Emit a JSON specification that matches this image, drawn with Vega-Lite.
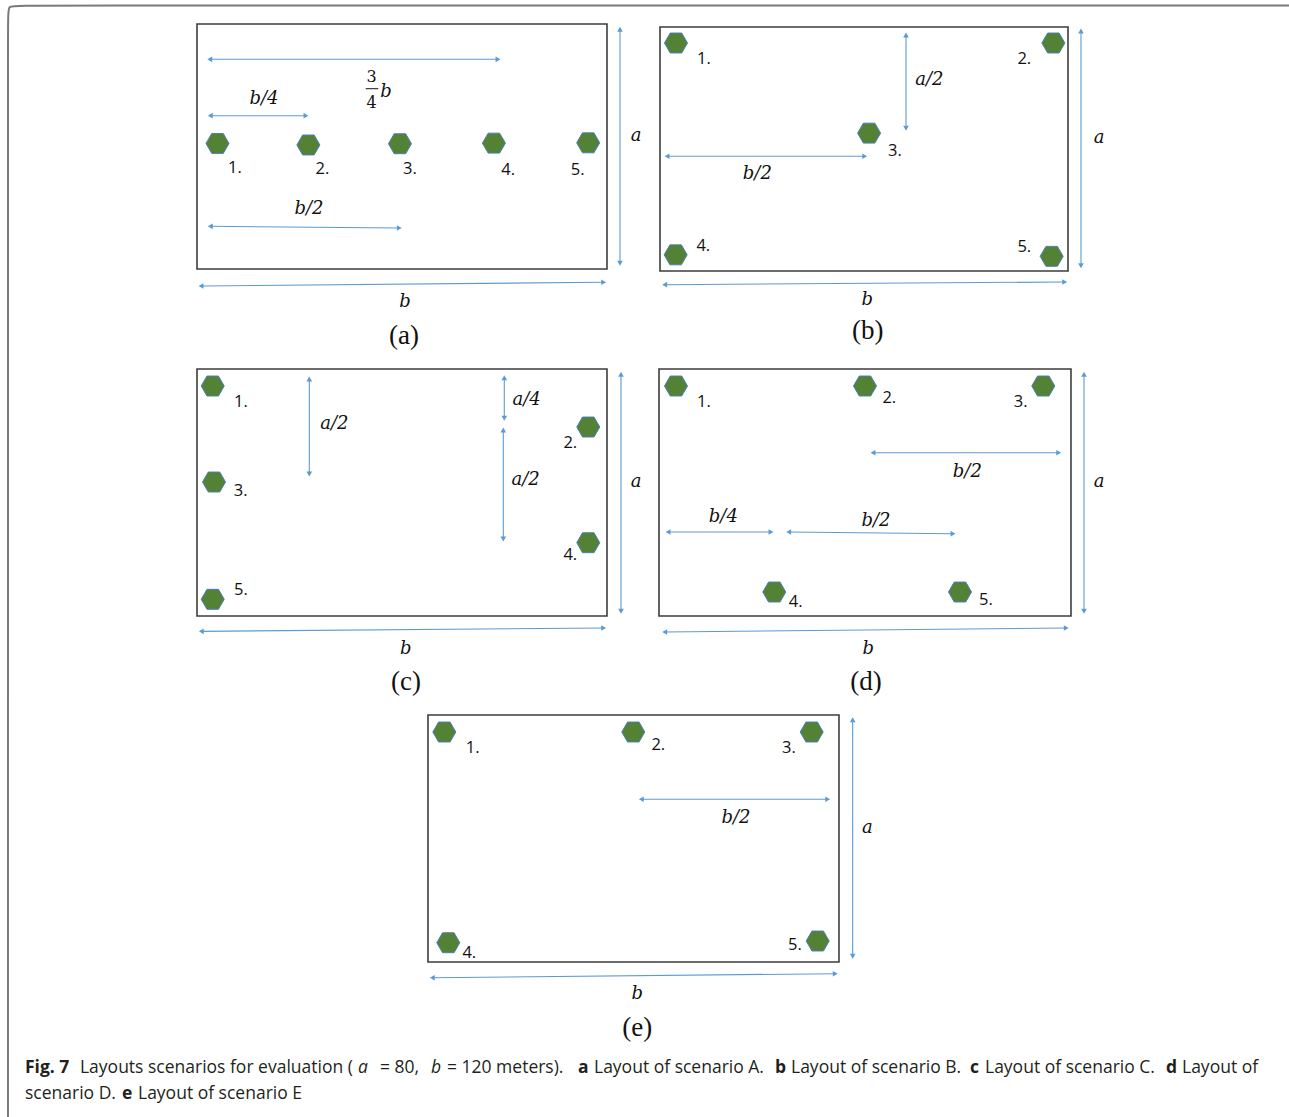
{
"$schema": "https://vega.github.io/schema/vega-lite/v6.json",
"padding": 0,
"background": "white",
"spacing": 0,
"config": {"view": {"stroke": null}, "concat": {"spacing": 0}},
"datasets": {"items": [
{"panel":"A","kind":"border","order":1,"x":-55.32,"y":-26.78},
{"panel":"A","kind":"border","order":2,"x":-55.32,"y":82.77},
{"panel":"A","kind":"border","order":3,"x":-55.32,"y":86.04},
{"panel":"A","kind":"border","order":4,"x":-52.39,"y":86.04},
{"panel":"A","kind":"border","order":5,"x":130.54,"y":86.04},
{"panel":"A","kind":"frame","x":0,"y":0,"x2":120,"y2":80},
{"panel":"A","kind":"station","id":1,"x":6.0,"y":41.0},
{"panel":"A","kind":"station","id":2,"x":32.6,"y":40.5},
{"panel":"A","kind":"station","id":3,"x":59.4,"y":40.9},
{"panel":"A","kind":"station","id":4,"x":86.9,"y":41.1},
{"panel":"A","kind":"station","id":5,"x":114.5,"y":41.2},
{"panel":"A","kind":"slabel","text":"1.","x":11.1,"y":33.0},
{"panel":"A","kind":"slabel","text":"2.","x":36.7,"y":32.8},
{"panel":"A","kind":"slabel","text":"3.","x":62.3,"y":32.8},
{"panel":"A","kind":"slabel","text":"4.","x":91.1,"y":32.4},
{"panel":"A","kind":"slabel","text":"5.","x":111.4,"y":32.4},
{"panel":"A","kind":"arrow","orient":"h","x":3.74,"y":68.47,"x2":88.1,"y2":68.47},
{"panel":"A","kind":"arrow","orient":"h","x":3.89,"y":50.06,"x2":31.9,"y2":50.06},
{"panel":"A","kind":"arrow","orient":"h","x":3.89,"y":13.94,"x2":59.21,"y2":13.39},
{"panel":"A","kind":"arrow","orient":"v","x":123.8,"y":78.27,"x2":123.8,"y2":1.86},
{"panel":"A","kind":"arrow","orient":"h","x":1.17,"y":-5.55,"x2":119.03,"y2":-4.34},
{"panel":"A","kind":"math","text":"b/4","x":19.61,"y":55.51},
{"panel":"A","kind":"math","text":"b/2","x":32.78,"y":19.59},
{"panel":"A","kind":"math","text":"a","x":128.49,"y":43.33},
{"panel":"A","kind":"math","text":"b","x":60.88,"y":-10.78},
{"panel":"A","kind":"math","text":"b","x":55.3,"y":57.8},
{"panel":"A","kind":"frac","text":"3","x":51.13,"y":62.6},
{"panel":"A","kind":"frac","text":"4","x":51.13,"y":54.2},
{"panel":"A","kind":"bar","x":49.38,"y":58.87,"x2":53.06,"y2":58.87},
{"panel":"A","kind":"sub","text":"(a)","x":60.59,"y":-21.88},

{"panel":"B","kind":"border","order":1,"x":-5.0,"y":87.05},
{"panel":"B","kind":"border","order":2,"x":185.0,"y":87.05},
{"panel":"B","kind":"frame","x":0,"y":0,"x2":120,"y2":80},
{"panel":"B","kind":"station","id":1,"x":4.7,"y":74.75},
{"panel":"B","kind":"station","id":2,"x":115.7,"y":74.75},
{"panel":"B","kind":"station","id":3,"x":61.5,"y":45.2},
{"panel":"B","kind":"station","id":4,"x":4.6,"y":5.3},
{"panel":"B","kind":"station","id":5,"x":115.2,"y":4.8},
{"panel":"B","kind":"slabel","text":"1.","x":12.94,"y":69.61},
{"panel":"B","kind":"slabel","text":"2.","x":107.15,"y":69.61},
{"panel":"B","kind":"slabel","text":"3.","x":69.12,"y":39.44},
{"panel":"B","kind":"slabel","text":"4.","x":12.74,"y":8.3},
{"panel":"B","kind":"slabel","text":"5.","x":107.15,"y":7.87},
{"panel":"B","kind":"arrow","orient":"v","x":72.35,"y":77.38,"x2":72.35,"y2":46.79},
{"panel":"B","kind":"arrow","orient":"h","x":2.06,"y":37.61,"x2":60.21,"y2":37.61},
{"panel":"B","kind":"arrow","orient":"v","x":123.82,"y":78.69,"x2":123.82,"y2":1.74},
{"panel":"B","kind":"arrow","orient":"h","x":1.38,"y":-4.49,"x2":119.03,"y2":-3.61},
{"panel":"B","kind":"math","text":"a/2","x":79.21,"y":62.72},
{"panel":"B","kind":"math","text":"b/2","x":28.62,"y":31.8},
{"panel":"B","kind":"math","text":"a","x":129.12,"y":43.61},
{"panel":"B","kind":"math","text":"b","x":60.97,"y":-9.41},
{"panel":"B","kind":"sub","text":"(b)","x":61.09,"y":-19.77},

{"panel":"C","kind":"border","order":1,"x":-55.32,"y":-26.23},
{"panel":"C","kind":"border","order":2,"x":-55.32,"y":85.83},
{"panel":"C","kind":"frame","x":0,"y":0,"x2":120,"y2":80},
{"panel":"C","kind":"station","id":1,"x":4.6,"y":74.49},
{"panel":"C","kind":"station","id":2,"x":114.52,"y":61.21},
{"panel":"C","kind":"station","id":3,"x":4.98,"y":43.4},
{"panel":"C","kind":"station","id":4,"x":114.52,"y":23.74},
{"panel":"C","kind":"station","id":5,"x":4.6,"y":5.41},
{"panel":"C","kind":"slabel","text":"1.","x":12.88,"y":69.31},
{"panel":"C","kind":"slabel","text":"2.","x":109.26,"y":56.03},
{"panel":"C","kind":"slabel","text":"3.","x":12.79,"y":40.39},
{"panel":"C","kind":"slabel","text":"4.","x":109.26,"y":19.85},
{"panel":"C","kind":"slabel","text":"5.","x":12.88,"y":8.52},
{"panel":"C","kind":"arrow","orient":"v","x":32.87,"y":76.76,"x2":32.87,"y2":45.99},
{"panel":"C","kind":"arrow","orient":"v","x":89.94,"y":77.18,"x2":89.94,"y2":64.03},
{"panel":"C","kind":"arrow","orient":"v","x":89.65,"y":60.24,"x2":89.65,"y2":24.94},
{"panel":"C","kind":"arrow","orient":"v","x":124.1,"y":78.28,"x2":124.1,"y2":1.52},
{"panel":"C","kind":"arrow","orient":"h","x":1.26,"y":-4.96,"x2":119.03,"y2":-3.89},
{"panel":"C","kind":"math","text":"a/2","x":40.19,"y":62.28},
{"panel":"C","kind":"math","text":"a/4","x":96.5,"y":69.86},
{"panel":"C","kind":"math","text":"a/2","x":96.2,"y":43.95},
{"panel":"C","kind":"math","text":"a","x":128.49,"y":43.4},
{"panel":"C","kind":"math","text":"b","x":61.08,"y":-10.59},
{"panel":"C","kind":"sub","text":"(c)","x":61.17,"y":-21.38},

{"panel":"D","kind":"frame","x":0,"y":0,"x2":120,"y2":80},
{"panel":"D","kind":"station","id":1,"x":4.95,"y":74.49},
{"panel":"D","kind":"station","id":2,"x":60.0,"y":74.49},
{"panel":"D","kind":"station","id":3,"x":111.93,"y":74.49},
{"panel":"D","kind":"station","id":4,"x":33.58,"y":7.77},
{"panel":"D","kind":"station","id":5,"x":87.67,"y":7.77},
{"panel":"D","kind":"slabel","text":"1.","x":13.11,"y":69.31},
{"panel":"D","kind":"slabel","text":"2.","x":67.08,"y":70.61},
{"panel":"D","kind":"slabel","text":"3.","x":105.35,"y":69.31},
{"panel":"D","kind":"slabel","text":"4.","x":39.82,"y":4.53},
{"panel":"D","kind":"slabel","text":"5.","x":95.24,"y":5.08},
{"panel":"D","kind":"arrow","orient":"h","x":62.33,"y":52.89,"x2":116.42,"y2":52.89},
{"panel":"D","kind":"arrow","orient":"h","x":2.62,"y":27.21,"x2":32.62,"y2":27.21},
{"panel":"D","kind":"arrow","orient":"h","x":37.78,"y":27.21,"x2":85.63,"y2":26.66},
{"panel":"D","kind":"arrow","orient":"v","x":123.79,"y":78.28,"x2":123.79,"y2":1.52},
{"panel":"D","kind":"arrow","orient":"h","x":1.66,"y":-5.18,"x2":118.63,"y2":-3.89},
{"panel":"D","kind":"math","text":"b/2","x":89.8,"y":46.64},
{"panel":"D","kind":"math","text":"b/4","x":18.73,"y":31.97},
{"panel":"D","kind":"math","text":"b/2","x":63.2,"y":30.77},
{"panel":"D","kind":"math","text":"a","x":128.16,"y":43.4},
{"panel":"D","kind":"math","text":"b","x":60.96,"y":-10.59},
{"panel":"D","kind":"sub","text":"(d)","x":60.29,"y":-21.38},

{"panel":"E","kind":"border","order":1,"x":-122.63,"y":-50.2},
{"panel":"E","kind":"border","order":2,"x":-122.63,"y":85.83},
{"panel":"E","kind":"frame","x":0,"y":0,"x2":120,"y2":80},
{"panel":"E","kind":"station","id":1,"x":4.77,"y":74.49},
{"panel":"E","kind":"station","id":2,"x":59.94,"y":74.49},
{"panel":"E","kind":"station","id":3,"x":112.03,"y":74.49},
{"panel":"E","kind":"station","id":4,"x":5.93,"y":6.25},
{"panel":"E","kind":"station","id":5,"x":113.78,"y":6.8},
{"panel":"E","kind":"slabel","text":"1.","x":13.05,"y":69.41},
{"panel":"E","kind":"slabel","text":"2.","x":67.24,"y":70.19},
{"panel":"E","kind":"slabel","text":"3.","x":105.4,"y":69.41},
{"panel":"E","kind":"slabel","text":"4.","x":12.06,"y":3.01},
{"panel":"E","kind":"slabel","text":"5.","x":107.15,"y":5.41},
{"panel":"E","kind":"arrow","orient":"h","x":62.28,"y":52.7,"x2":116.7,"y2":52.7},
{"panel":"E","kind":"arrow","orient":"v","x":124.0,"y":78.48,"x2":124.0,"y2":1.85},
{"panel":"E","kind":"arrow","orient":"h","x":1.26,"y":-5.09,"x2":118.92,"y2":-3.79},
{"panel":"E","kind":"math","text":"b/2","x":89.93,"y":46.74},
{"panel":"E","kind":"math","text":"a","x":128.26,"y":43.5},
{"panel":"E","kind":"math","text":"b","x":61.11,"y":-10.46},
{"panel":"E","kind":"sub","text":"(e)","x":61.11,"y":-21.28},
{"panel":"E","kind":"capb","text":"Fig. 7","x":-117.66,"y":-36.11},
{"panel":"E","kind":"cap","text":"Layouts scenarios for evaluation (","x":-101.61,"y":-36.11},
{"panel":"E","kind":"capi","text":"a","x":-20.44,"y":-36.11},
{"panel":"E","kind":"cap","text":"= 80,","x":-14.01,"y":-36.11},
{"panel":"E","kind":"capi","text":"b","x":0.88,"y":-36.11},
{"panel":"E","kind":"cap","text":"= 120 meters).","x":5.55,"y":-36.11},
{"panel":"E","kind":"capb","text":"a","x":43.8,"y":-36.11},
{"panel":"E","kind":"cap","text":"Layout of scenario A.","x":48.47,"y":-36.11},
{"panel":"E","kind":"capb","text":"b","x":101.31,"y":-36.11},
{"panel":"E","kind":"cap","text":"Layout of scenario B.","x":105.99,"y":-36.11},
{"panel":"E","kind":"capb","text":"c","x":158.25,"y":-36.11},
{"panel":"E","kind":"cap","text":"Layout of scenario C.","x":162.63,"y":-36.11},
{"panel":"E","kind":"capb","text":"d","x":215.47,"y":-36.11},
{"panel":"E","kind":"cap","text":"Layout of","x":220.15,"y":-36.11},
{"panel":"E","kind":"cap","text":"scenario D.","x":-117.66,"y":-44.53},
{"panel":"E","kind":"capb","text":"e","x":-89.34,"y":-44.53},
{"panel":"E","kind":"cap","text":"Layout of scenario E","x":-84.67,"y":-44.53}
]},
"vconcat": [
{"spacing": 0, "hconcat": [
{"width": 643, "height": 351, "data": {"name": "items"}, "transform": [{"filter": "datum.panel === 'A'"}],
 "encoding": {"x": {"field": "x", "type": "quantitative", "scale": {"domain": [-57.66, 130.54], "nice": false, "zero": false}, "axis": null},
              "y": {"field": "y", "type": "quantitative", "scale": {"domain": [-26.78, 87.84], "nice": false, "zero": false}, "axis": null}},
 "layer": [
  {"transform": [{"filter": "datum.kind === 'border'"}], "mark": {"type": "line", "interpolate": "basis", "stroke": "#7a7a7a", "strokeWidth": 2, "clip": true}, "encoding": {"order": {"field": "order", "type": "quantitative"}}},
  {"transform": [{"filter": "datum.kind === 'frame'"}], "mark": {"type": "rect", "filled": false, "stroke": "#3d3d3d", "strokeWidth": 1.6}, "encoding": {"x2": {"field": "x2"}, "y2": {"field": "y2"}}},
  {"transform": [{"filter": "datum.kind === 'arrow'"}], "mark": {"type": "rule", "color": "#5b9bd5", "strokeWidth": 1.1}, "encoding": {"x2": {"field": "x2"}, "y2": {"field": "y2"}}},
  {"transform": [{"filter": "datum.kind === 'arrow'"}], "mark": {"type": "point", "filled": true, "color": "#5b9bd5", "size": 32, "opacity": 1}, "encoding": {"shape": {"condition": {"test": "datum.orient === 'h'", "value": "triangle-left"}, "value": "triangle-up"}}},
  {"transform": [{"filter": "datum.kind === 'arrow'"}], "mark": {"type": "point", "filled": true, "color": "#5b9bd5", "size": 32, "opacity": 1}, "encoding": {"x": {"field": "x2", "type": "quantitative", "scale": {"domain": [-57.66, 130.54], "nice": false, "zero": false}, "axis": null}, "y": {"field": "y2", "type": "quantitative", "scale": {"domain": [-26.78, 87.84], "nice": false, "zero": false}, "axis": null}, "shape": {"condition": {"test": "datum.orient === 'h'", "value": "triangle-right"}, "value": "triangle-down"}}},
  {"transform": [{"filter": "datum.kind === 'station'"}], "mark": {"type": "point", "shape": "M -1 0 L -0.5 -0.866 L 0.5 -0.866 L 1 0 L 0.5 0.866 L -0.5 0.866 Z", "size": 530, "filled": true, "fill": "#548235", "stroke": "#4a7ebb", "strokeWidth": 1, "opacity": 1}, "encoding": {}},
  {"transform": [{"filter": "datum.kind === 'slabel'"}], "mark": {"type": "text", "font": "Open Sans", "fontSize": 16.5, "color": "#111", "align": "center", "baseline": "middle"}, "encoding": {"text": {"field": "text"}}},
  {"transform": [{"filter": "datum.kind === 'math'"}], "mark": {"type": "text", "font": "DejaVu Serif", "fontStyle": "italic", "fontSize": 18, "color": "#111", "align": "center", "baseline": "middle"}, "encoding": {"text": {"field": "text"}}},
  {"transform": [{"filter": "datum.kind === 'frac'"}], "mark": {"type": "text", "font": "DejaVu Serif", "fontSize": 16, "color": "#111", "align": "center", "baseline": "middle"}, "encoding": {"text": {"field": "text"}}},
  {"transform": [{"filter": "datum.kind === 'bar'"}], "mark": {"type": "rule", "color": "#111", "strokeWidth": 1}, "encoding": {"x2": {"field": "x2"}, "y2": {"field": "y2"}}},
  {"transform": [{"filter": "datum.kind === 'sub'"}], "mark": {"type": "text", "font": "Liberation Serif", "fontSize": 27, "color": "#111", "align": "center", "baseline": "middle"}, "encoding": {"text": {"field": "text"}}}
 ]},
{"width": 646, "height": 351, "data": {"name": "items"}, "transform": [{"filter": "datum.panel === 'B'"}],
 "encoding": {"x": {"field": "x", "type": "quantitative", "scale": {"domain": [-5.0, 185.0], "nice": false, "zero": false}, "axis": null},
              "y": {"field": "y", "type": "quantitative", "scale": {"domain": [-26.23, 88.85], "nice": false, "zero": false}, "axis": null}},
 "layer": [
  {"transform": [{"filter": "datum.kind === 'border'"}], "mark": {"type": "line", "stroke": "#7a7a7a", "strokeWidth": 2, "clip": true}, "encoding": {"order": {"field": "order", "type": "quantitative"}}},
  {"transform": [{"filter": "datum.kind === 'frame'"}], "mark": {"type": "rect", "filled": false, "stroke": "#3d3d3d", "strokeWidth": 1.6}, "encoding": {"x2": {"field": "x2"}, "y2": {"field": "y2"}}},
  {"transform": [{"filter": "datum.kind === 'arrow'"}], "mark": {"type": "rule", "color": "#5b9bd5", "strokeWidth": 1.1}, "encoding": {"x2": {"field": "x2"}, "y2": {"field": "y2"}}},
  {"transform": [{"filter": "datum.kind === 'arrow'"}], "mark": {"type": "point", "filled": true, "color": "#5b9bd5", "size": 32, "opacity": 1}, "encoding": {"shape": {"condition": {"test": "datum.orient === 'h'", "value": "triangle-left"}, "value": "triangle-up"}}},
  {"transform": [{"filter": "datum.kind === 'arrow'"}], "mark": {"type": "point", "filled": true, "color": "#5b9bd5", "size": 32, "opacity": 1}, "encoding": {"x": {"field": "x2", "type": "quantitative", "scale": {"domain": [-5.0, 185.0], "nice": false, "zero": false}, "axis": null}, "y": {"field": "y2", "type": "quantitative", "scale": {"domain": [-26.23, 88.85], "nice": false, "zero": false}, "axis": null}, "shape": {"condition": {"test": "datum.orient === 'h'", "value": "triangle-right"}, "value": "triangle-down"}}},
  {"transform": [{"filter": "datum.kind === 'station'"}], "mark": {"type": "point", "shape": "M -1 0 L -0.5 -0.866 L 0.5 -0.866 L 1 0 L 0.5 0.866 L -0.5 0.866 Z", "size": 530, "filled": true, "fill": "#548235", "stroke": "#4a7ebb", "strokeWidth": 1, "opacity": 1}, "encoding": {}},
  {"transform": [{"filter": "datum.kind === 'slabel'"}], "mark": {"type": "text", "font": "Open Sans", "fontSize": 16.5, "color": "#111", "align": "center", "baseline": "middle"}, "encoding": {"text": {"field": "text"}}},
  {"transform": [{"filter": "datum.kind === 'math'"}], "mark": {"type": "text", "font": "DejaVu Serif", "fontStyle": "italic", "fontSize": 18, "color": "#111", "align": "center", "baseline": "middle"}, "encoding": {"text": {"field": "text"}}},
  {"transform": [{"filter": "datum.kind === 'sub'"}], "mark": {"type": "text", "font": "Liberation Serif", "fontSize": 27, "color": "#111", "align": "center", "baseline": "middle"}, "encoding": {"text": {"field": "text"}}}
 ]}
]},
{"spacing": 0, "hconcat": [
{"width": 643, "height": 346, "data": {"name": "items"}, "transform": [{"filter": "datum.panel === 'C'"}],
 "encoding": {"x": {"field": "x", "type": "quantitative", "scale": {"domain": [-57.66, 130.54], "nice": false, "zero": false}, "axis": null},
              "y": {"field": "y", "type": "quantitative", "scale": {"domain": [-26.23, 85.83], "nice": false, "zero": false}, "axis": null}},
 "layer": [
  {"transform": [{"filter": "datum.kind === 'border'"}], "mark": {"type": "line", "stroke": "#7a7a7a", "strokeWidth": 2, "clip": true}, "encoding": {"order": {"field": "order", "type": "quantitative"}}},
  {"transform": [{"filter": "datum.kind === 'frame'"}], "mark": {"type": "rect", "filled": false, "stroke": "#3d3d3d", "strokeWidth": 1.6}, "encoding": {"x2": {"field": "x2"}, "y2": {"field": "y2"}}},
  {"transform": [{"filter": "datum.kind === 'arrow'"}], "mark": {"type": "rule", "color": "#5b9bd5", "strokeWidth": 1.1}, "encoding": {"x2": {"field": "x2"}, "y2": {"field": "y2"}}},
  {"transform": [{"filter": "datum.kind === 'arrow'"}], "mark": {"type": "point", "filled": true, "color": "#5b9bd5", "size": 32, "opacity": 1}, "encoding": {"shape": {"condition": {"test": "datum.orient === 'h'", "value": "triangle-left"}, "value": "triangle-up"}}},
  {"transform": [{"filter": "datum.kind === 'arrow'"}], "mark": {"type": "point", "filled": true, "color": "#5b9bd5", "size": 32, "opacity": 1}, "encoding": {"x": {"field": "x2", "type": "quantitative", "scale": {"domain": [-57.66, 130.54], "nice": false, "zero": false}, "axis": null}, "y": {"field": "y2", "type": "quantitative", "scale": {"domain": [-26.23, 85.83], "nice": false, "zero": false}, "axis": null}, "shape": {"condition": {"test": "datum.orient === 'h'", "value": "triangle-right"}, "value": "triangle-down"}}},
  {"transform": [{"filter": "datum.kind === 'station'"}], "mark": {"type": "point", "shape": "M -1 0 L -0.5 -0.866 L 0.5 -0.866 L 1 0 L 0.5 0.866 L -0.5 0.866 Z", "size": 530, "filled": true, "fill": "#548235", "stroke": "#4a7ebb", "strokeWidth": 1, "opacity": 1}, "encoding": {}},
  {"transform": [{"filter": "datum.kind === 'slabel'"}], "mark": {"type": "text", "font": "Open Sans", "fontSize": 16.5, "color": "#111", "align": "center", "baseline": "middle"}, "encoding": {"text": {"field": "text"}}},
  {"transform": [{"filter": "datum.kind === 'math'"}], "mark": {"type": "text", "font": "DejaVu Serif", "fontStyle": "italic", "fontSize": 18, "color": "#111", "align": "center", "baseline": "middle"}, "encoding": {"text": {"field": "text"}}},
  {"transform": [{"filter": "datum.kind === 'sub'"}], "mark": {"type": "text", "font": "Liberation Serif", "fontSize": 27, "color": "#111", "align": "center", "baseline": "middle"}, "encoding": {"text": {"field": "text"}}}
 ]},
{"width": 646, "height": 346, "data": {"name": "items"}, "transform": [{"filter": "datum.panel === 'D'"}],
 "encoding": {"x": {"field": "x", "type": "quantitative", "scale": {"domain": [-4.66, 183.5], "nice": false, "zero": false}, "axis": null},
              "y": {"field": "y", "type": "quantitative", "scale": {"domain": [-26.23, 85.83], "nice": false, "zero": false}, "axis": null}},
 "layer": [
  {"transform": [{"filter": "datum.kind === 'frame'"}], "mark": {"type": "rect", "filled": false, "stroke": "#3d3d3d", "strokeWidth": 1.6}, "encoding": {"x2": {"field": "x2"}, "y2": {"field": "y2"}}},
  {"transform": [{"filter": "datum.kind === 'arrow'"}], "mark": {"type": "rule", "color": "#5b9bd5", "strokeWidth": 1.1}, "encoding": {"x2": {"field": "x2"}, "y2": {"field": "y2"}}},
  {"transform": [{"filter": "datum.kind === 'arrow'"}], "mark": {"type": "point", "filled": true, "color": "#5b9bd5", "size": 32, "opacity": 1}, "encoding": {"shape": {"condition": {"test": "datum.orient === 'h'", "value": "triangle-left"}, "value": "triangle-up"}}},
  {"transform": [{"filter": "datum.kind === 'arrow'"}], "mark": {"type": "point", "filled": true, "color": "#5b9bd5", "size": 32, "opacity": 1}, "encoding": {"x": {"field": "x2", "type": "quantitative", "scale": {"domain": [-4.66, 183.5], "nice": false, "zero": false}, "axis": null}, "y": {"field": "y2", "type": "quantitative", "scale": {"domain": [-26.23, 85.83], "nice": false, "zero": false}, "axis": null}, "shape": {"condition": {"test": "datum.orient === 'h'", "value": "triangle-right"}, "value": "triangle-down"}}},
  {"transform": [{"filter": "datum.kind === 'station'"}], "mark": {"type": "point", "shape": "M -1 0 L -0.5 -0.866 L 0.5 -0.866 L 1 0 L 0.5 0.866 L -0.5 0.866 Z", "size": 530, "filled": true, "fill": "#548235", "stroke": "#4a7ebb", "strokeWidth": 1, "opacity": 1}, "encoding": {}},
  {"transform": [{"filter": "datum.kind === 'slabel'"}], "mark": {"type": "text", "font": "Open Sans", "fontSize": 16.5, "color": "#111", "align": "center", "baseline": "middle"}, "encoding": {"text": {"field": "text"}}},
  {"transform": [{"filter": "datum.kind === 'math'"}], "mark": {"type": "text", "font": "DejaVu Serif", "fontStyle": "italic", "fontSize": 18, "color": "#111", "align": "center", "baseline": "middle"}, "encoding": {"text": {"field": "text"}}},
  {"transform": [{"filter": "datum.kind === 'sub'"}], "mark": {"type": "text", "font": "Liberation Serif", "fontSize": 27, "color": "#111", "align": "center", "baseline": "middle"}, "encoding": {"text": {"field": "text"}}}
 ]}
]},
{"width": 1289, "height": 420, "data": {"name": "items"}, "transform": [{"filter": "datum.panel === 'E'"}],
 "encoding": {"x": {"field": "x", "type": "quantitative", "scale": {"domain": [-124.96, 251.39], "nice": false, "zero": false}, "axis": null},
              "y": {"field": "y", "type": "quantitative", "scale": {"domain": [-50.2, 85.83], "nice": false, "zero": false}, "axis": null}},
 "layer": [
  {"transform": [{"filter": "datum.kind === 'border'"}], "mark": {"type": "line", "stroke": "#7a7a7a", "strokeWidth": 2, "clip": true}, "encoding": {"order": {"field": "order", "type": "quantitative"}}},
  {"transform": [{"filter": "datum.kind === 'frame'"}], "mark": {"type": "rect", "filled": false, "stroke": "#3d3d3d", "strokeWidth": 1.6}, "encoding": {"x2": {"field": "x2"}, "y2": {"field": "y2"}}},
  {"transform": [{"filter": "datum.kind === 'arrow'"}], "mark": {"type": "rule", "color": "#5b9bd5", "strokeWidth": 1.1}, "encoding": {"x2": {"field": "x2"}, "y2": {"field": "y2"}}},
  {"transform": [{"filter": "datum.kind === 'arrow'"}], "mark": {"type": "point", "filled": true, "color": "#5b9bd5", "size": 32, "opacity": 1}, "encoding": {"shape": {"condition": {"test": "datum.orient === 'h'", "value": "triangle-left"}, "value": "triangle-up"}}},
  {"transform": [{"filter": "datum.kind === 'arrow'"}], "mark": {"type": "point", "filled": true, "color": "#5b9bd5", "size": 32, "opacity": 1}, "encoding": {"x": {"field": "x2", "type": "quantitative", "scale": {"domain": [-124.96, 251.39], "nice": false, "zero": false}, "axis": null}, "y": {"field": "y2", "type": "quantitative", "scale": {"domain": [-50.2, 85.83], "nice": false, "zero": false}, "axis": null}, "shape": {"condition": {"test": "datum.orient === 'h'", "value": "triangle-right"}, "value": "triangle-down"}}},
  {"transform": [{"filter": "datum.kind === 'station'"}], "mark": {"type": "point", "shape": "M -1 0 L -0.5 -0.866 L 0.5 -0.866 L 1 0 L 0.5 0.866 L -0.5 0.866 Z", "size": 530, "filled": true, "fill": "#548235", "stroke": "#4a7ebb", "strokeWidth": 1, "opacity": 1}, "encoding": {}},
  {"transform": [{"filter": "datum.kind === 'slabel'"}], "mark": {"type": "text", "font": "Open Sans", "fontSize": 16.5, "color": "#111", "align": "center", "baseline": "middle"}, "encoding": {"text": {"field": "text"}}},
  {"transform": [{"filter": "datum.kind === 'math'"}], "mark": {"type": "text", "font": "DejaVu Serif", "fontStyle": "italic", "fontSize": 18, "color": "#111", "align": "center", "baseline": "middle"}, "encoding": {"text": {"field": "text"}}},
  {"transform": [{"filter": "datum.kind === 'sub'"}], "mark": {"type": "text", "font": "Liberation Serif", "fontSize": 27, "color": "#111", "align": "center", "baseline": "middle"}, "encoding": {"text": {"field": "text"}}},
  {"transform": [{"filter": "datum.kind === 'cap'"}], "mark": {"type": "text", "font": "Open Sans", "fontSize": 17.5, "color": "#231f20", "align": "left", "baseline": "alphabetic"}, "encoding": {"text": {"field": "text"}}},
  {"transform": [{"filter": "datum.kind === 'capi'"}], "mark": {"type": "text", "font": "Open Sans", "fontSize": 17.5, "fontStyle": "italic", "color": "#231f20", "align": "left", "baseline": "alphabetic"}, "encoding": {"text": {"field": "text"}}},
  {"transform": [{"filter": "datum.kind === 'capb'"}], "mark": {"type": "text", "font": "Open Sans", "fontSize": 17.5, "fontWeight": "bold", "color": "#231f20", "align": "left", "baseline": "alphabetic"}, "encoding": {"text": {"field": "text"}}}
 ]}
]
}
